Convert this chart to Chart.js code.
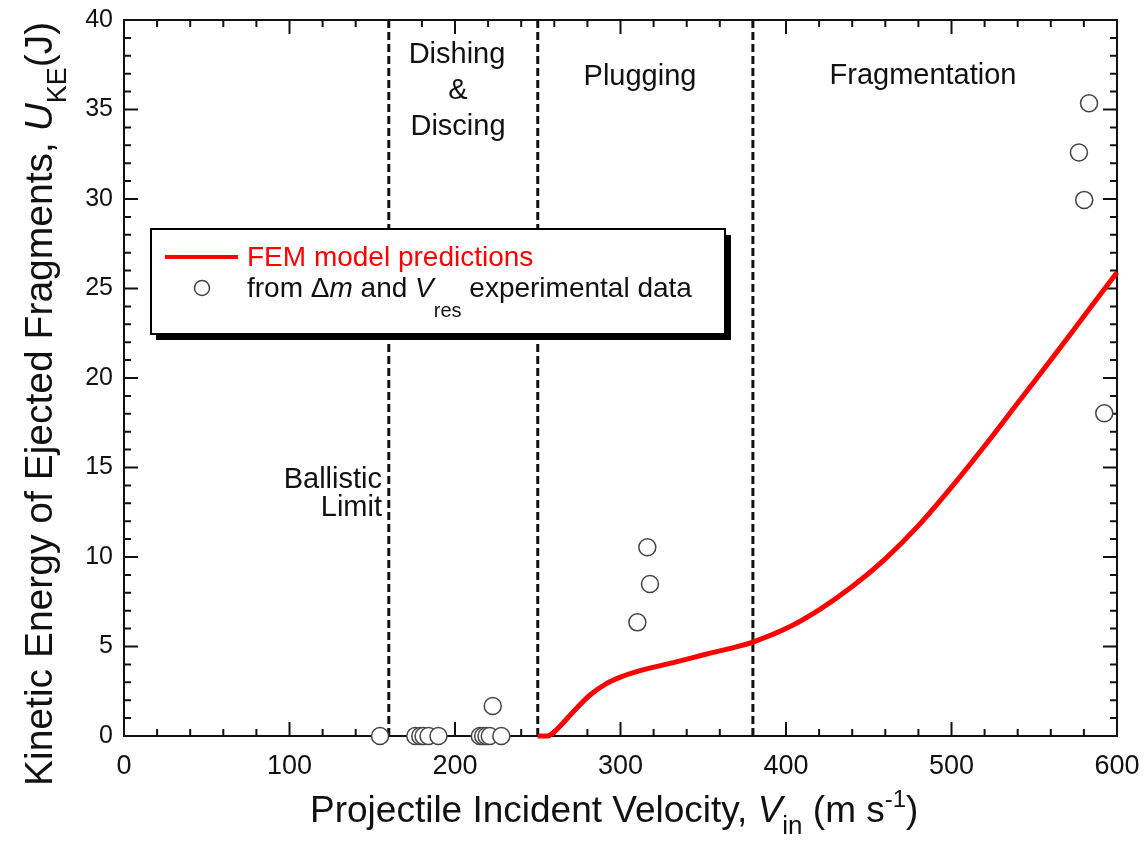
<!DOCTYPE html>
<html>
<head>
<meta charset="utf-8">
<title>Kinetic energy of ejected fragments</title>
<script src="https://cdn.jsdelivr.net/npm/chart.js@4.4.1/dist/chart.umd.min.js"></script>
<style>
  html, body { margin: 0; padding: 0; background: #fff; }
  #wrap { width: 1146px; height: 845px; position: relative; }
</style>
</head>
<body>
<div id="wrap"><canvas id="keChart"></canvas></div>
<script>
// FEM model prediction curve (m/s, J)
var femVelocity = [250, 256, 259, 264, 271.5, 281.6, 291.7, 301.7, 311.8, 331.9, 352.1, 372.2, 380,
                   400, 420, 440, 460, 480, 500, 520, 540, 560, 580, 600];
var femEnergy   = [0, 0, 0.15, 0.6, 1.36, 2.29, 2.94, 3.35, 3.65, 4.1, 4.58, 5.03, 5.25,
                   6.0, 7.05, 8.35, 9.9, 11.75, 13.9, 16.2, 18.6, 21.0, 23.45, 25.9];

// values derived from mass loss and residual velocity measurements
var expVelocity = [154.7, 176, 179, 181, 184, 190, 215, 217, 219, 221, 228, 222.8,
                   310.2, 316.2, 317.8, 577, 580.2, 583.1, 592.3];
var expEnergy   = [0, 0, 0, 0, 0, 0, 0, 0, 0, 0, 0, 1.68,
                   6.35, 10.54, 8.49, 32.6, 29.95, 35.35, 18.03];

// boundaries between penetration regimes
var regimeBounds = [160, 250, 380];

var FONT = "'Liberation Sans', Arial, Helvetica, sans-serif";

function toPoints(xs, ys) {
  return xs.map(function(x, i) { return { x: x, y: ys[i] }; });
}

// draws text pieces one after another, each with its own font and baseline shift
function drawRuns(ctx, x, y, runs) {
  var cx = x;
  runs.forEach(function(r) {
    ctx.font = (r.italic ? 'italic ' : '') + r.size + 'px ' + FONT;
    ctx.fillStyle = r.color || '#111';
    ctx.fillText(r.t, cx, y + (r.dy || 0));
    cx += ctx.measureText(r.t).width;
  });
  return cx - x;
}

var framePlugin = {
  id: 'frameTicks',
  beforeDatasetsDraw: function(chart) {
    var ctx = chart.ctx, a = chart.chartArea;
    var xs = chart.scales.x, ys = chart.scales.y;
    ctx.save();
    ctx.strokeStyle = '#111';
    ctx.lineWidth = 2;
    ctx.strokeRect(a.left, a.top, a.right - a.left, a.bottom - a.top);
    ctx.beginPath();
    for (var v = 0; v <= 600; v += 20) {
      var px = xs.getPixelForValue(v);
      var len = (v % 100 === 0) ? 14 : 7;
      ctx.moveTo(px, a.bottom); ctx.lineTo(px, a.bottom - len);
      ctx.moveTo(px, a.top); ctx.lineTo(px, a.top + len);
    }
    for (var e = 0; e <= 40; e += 1) {
      var py = ys.getPixelForValue(e);
      var l = (e % 5 === 0) ? 14 : 7;
      ctx.moveTo(a.left, py); ctx.lineTo(a.left + l, py);
      ctx.moveTo(a.right, py); ctx.lineTo(a.right - l, py);
    }
    ctx.stroke();

    // regime boundaries
    ctx.setLineDash([8, 4]);
    ctx.lineWidth = 3;
    ctx.beginPath();
    regimeBounds.forEach(function(b) {
      var px = xs.getPixelForValue(b);
      ctx.moveTo(px, a.top); ctx.lineTo(px, a.bottom);
    });
    ctx.stroke();
    ctx.restore();
  }
};

var annotatePlugin = {
  id: 'annotations',
  afterDraw: function(chart) {
    var ctx = chart.ctx;
    ctx.save();
    ctx.textBaseline = 'alphabetic';

    // regime labels
    ctx.font = '29px ' + FONT;
    ctx.fillStyle = '#111';
    ctx.textAlign = 'center';
    ctx.fillText('Dishing', 457, 63);
    ctx.fillText('&', 458, 99);
    ctx.fillText('Discing', 458, 135);
    ctx.fillText('Plugging', 640, 85);
    ctx.fillText('Fragmentation', 923, 84);
    ctx.textAlign = 'right';
    ctx.fillText('Ballistic', 382, 488);
    ctx.fillText('Limit', 382, 516);
    ctx.textAlign = 'left';

    // legend box with drop shadow
    ctx.fillStyle = '#000';
    ctx.fillRect(156, 235, 575, 105);
    ctx.fillStyle = '#fff';
    ctx.fillRect(151, 229, 574, 105);
    ctx.strokeStyle = '#000';
    ctx.lineWidth = 2;
    ctx.strokeRect(151, 229, 574, 105);

    ctx.strokeStyle = '#ff0000';
    ctx.lineWidth = 4;
    ctx.beginPath();
    ctx.moveTo(165, 257); ctx.lineTo(238, 257);
    ctx.stroke();
    drawRuns(ctx, 247, 266, [{ t: 'FEM model predictions', size: 28, color: '#ff0000' }]);

    ctx.beginPath();
    ctx.arc(202, 288, 7.5, 0, Math.PI * 2);
    ctx.fillStyle = '#fff';
    ctx.fill();
    ctx.strokeStyle = '#444';
    ctx.lineWidth = 1.5;
    ctx.stroke();
    drawRuns(ctx, 247, 297, [
      { t: 'from ', size: 28 },
      { t: '\u0394', size: 28 },
      { t: 'm', size: 28, italic: true },
      { t: ' and ', size: 28 },
      { t: 'V', size: 28, italic: true },
      { t: 'res', size: 20, dy: 20 },
      { t: ' experimental data', size: 28 }
    ]);

    // x axis title
    drawRuns(ctx, 310, 822, [
      { t: 'Projectile Incident Velocity, ', size: 37 },
      { t: 'V', size: 37, italic: true },
      { t: 'in', size: 26, dy: 12 },
      { t: ' (m s', size: 37 },
      { t: '-1', size: 24, dy: -15 },
      { t: ')', size: 37 }
    ]);

    // y axis title, rotated
    ctx.translate(52, 786);
    ctx.rotate(-Math.PI / 2);
    drawRuns(ctx, 0, 0, [
      { t: 'Kinetic Energy of Ejected Fragments, ', size: 39 },
      { t: 'U', size: 39, italic: true },
      { t: 'KE', size: 27, dy: 14 },
      { t: '(J)', size: 39 }
    ]);
    ctx.restore();
  }
};

var ctx = document.getElementById('keChart').getContext('2d');
new Chart(ctx, {
  type: 'scatter',
  data: {
    datasets: [{
      type: 'line',
      label: 'FEM model predictions',
      data: toPoints(femVelocity, femEnergy),
      borderColor: '#ff0000',
      borderWidth: 5,
      pointRadius: 0,
      fill: false,
      cubicInterpolationMode: 'monotone',
      clip: false
    }, {
      label: 'experimental data',
      data: toPoints(expVelocity, expEnergy),
      pointRadius: 8.5,
      pointHoverRadius: 8.5,
      pointBackgroundColor: '#fff',
      pointBorderColor: '#444',
      pointBorderWidth: 1.5,
      clip: false
    }]
  },
  options: {
    responsive: true,
    maintainAspectRatio: false,
    animation: false,
    layout: { padding: { left: 0, right: 29, top: 20, bottom: 0 } },
    plugins: {
      legend: { display: false },
      tooltip: { enabled: false }
    },
    scales: {
      x: {
        type: 'linear',
        min: 0,
        max: 600,
        grid: { display: false, drawTicks: false },
        border: { display: false },
        ticks: { stepSize: 100, padding: 14, color: '#111', font: { family: FONT, size: 27 } },
        afterFit: function(scale) {
          scale.height = 109;
          scale.paddingLeft = 0;
          scale.paddingRight = 0;
        }
      },
      y: {
        min: 0,
        max: 40,
        grid: { display: false, drawTicks: false },
        border: { display: false },
        ticks: { stepSize: 5, padding: 11, color: '#111', font: { family: FONT, size: 25 } },
        afterFit: function(scale) {
          scale.width = 124;
          scale.paddingTop = 0;
          scale.paddingBottom = 0;
        }
      }
    }
  },
  plugins: [framePlugin, annotatePlugin]
});
</script>
</body>
</html>
